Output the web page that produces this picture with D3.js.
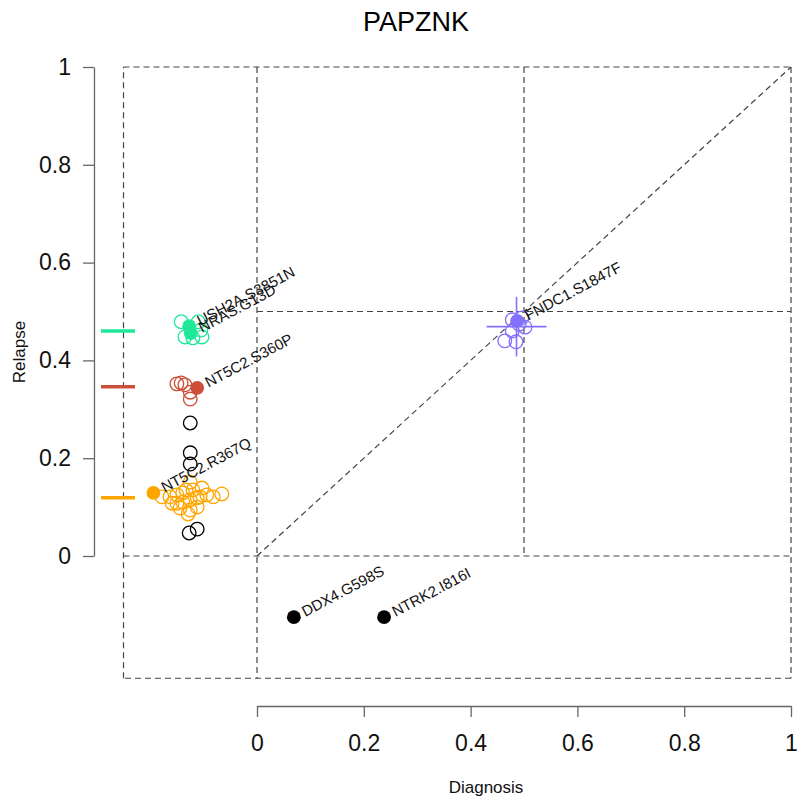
<!DOCTYPE html>
<html>
<head>
<meta charset="utf-8">
<script src="https://cdn.jsdelivr.net/npm/d3@7"></script>
<style>
  body { margin: 0; background: #fff; }
  svg { display: block; font-family: "Liberation Sans", Arial, sans-serif; }
</style>
</head>
<body>
<div id="chart"></div>
<script>
const title = "PAPZNK";
const tickValues = [0, 0.2, 0.4, 0.6, 0.8, 1];
const tickLabels = ["0", "0.2", "0.4", "0.6", "0.8", "1"];

// cluster colours: 0 green, 1 red, 2 orange, 3 purple, 4 unclustered
const clusterColor = ["#1fe89b", "#cd4f39", "#ffa500", "#8470ff", "#000000"];
const clusterMeanRelapse = [0.460, 0.346, 0.119];
const clusterCenter = { diagnosis: 0.486, relapse: 0.469 }; // purple cluster
const clusterCI = { diagnosis: [0.430, 0.542], relapse: [0.408, 0.530] };

// unlabelled variants (hollow circles); jitter only used for diagnosis == 0
const snvCluster = [0, 0, 0, 0, 0, 0,
  1, 1, 1, 1, 1,
  2, 2, 2, 2, 2, 2, 2, 2, 2, 2, 2, 2, 2, 2, 2, 2, 2, 2, 2, 2, 2,
  3, 3, 3, 3, 3, 3, 3,
  4, 4, 4, 4, 4];
const snvDiagnosis = [0, 0, 0, 0, 0, 0,
  0, 0, 0, 0, 0,
  0, 0, 0, 0, 0, 0, 0, 0, 0, 0, 0, 0, 0, 0, 0, 0, 0, 0, 0, 0, 0,
  0.464, 0.485, 0.478, 0.502, 0.478, 0.496, 0.491,
  0, 0, 0, 0, 0];
const snvRelapse = [0.479, 0.479, 0.462, 0.448, 0.446, 0.448,
  0.352, 0.354, 0.350, 0.335, 0.321,
  0.121, 0.121, 0.125, 0.129, 0.151, 0.135, 0.139, 0.125, 0.121, 0.127,
  0.108, 0.110, 0.115, 0.119, 0.098, 0.094, 0.100, 0.086, 0.121, 0.135, 0.108,
  0.440, 0.438, 0.460, 0.468, 0.483, 0.487, 0.474,
  0.272, 0.211, 0.188, 0.047, 0.055];
const snvJitter = [-0.017, 0.015, 0.020, -0.010, 0.005, 0.022,
  -0.025, -0.017, -0.010, 0.000, 0.000,
  -0.053, -0.038, -0.025, -0.014, 0.000, 0.005, 0.022, 0.031, 0.043, 0.059,
  -0.025, -0.014, 0.000, 0.013, -0.019, 0.000, 0.013, -0.004, 0.018, -0.008, -0.034,
  0, 0, 0, 0, 0, 0, 0,
  0.000, 0.000, 0.000, -0.002, 0.013];

// labelled variants (filled circles)
const labelNames = ["USH2A.S3851N", "NRAS.G13D", "NT5C2.S360P", "NT5C2.R367Q",
  "FNDC1.S1847F", "DDX4.G598S", "NTRK2.I816I"];
const labelCluster = [0, 0, 1, 2, 3, 4, 4];
const labelDiagnosis = [0, 0, 0, 0, 0.487, 0.069, 0.238];
const labelRelapse = [0.470, 0.456, 0.344, 0.129, 0.481, 0, 0];
const labelJitter = [-0.002, 0.001, 0.013, -0.069, 0, 0, 0];

const zeroPos = -0.125;

function renderChart() {
  const width = 797, height = 802;
  const svg = d3.select("#chart").append("svg").attr("width", width).attr("height", height);

  const x = d3.scaleLinear().domain([0, 1]).range([257, 791]);
  const y = d3.scaleLinear().domain([0, 1]).range([556, 67]);

  const px = (diag, jit) => x(diag === 0 ? zeroPos + jit : diag);
  const py = rel => y(rel === 0 ? zeroPos : rel);

  // dashed guide lines
  const guides = [
    [-0.25, 1, 1, 1], [1, 1, 1, -0.25], [1, -0.25, -0.25, -0.25], [-0.25, -0.25, -0.25, 1],
    [0, 1, 0, -0.25], [-0.25, 0, 1, 0], [0.5, 1, 0.5, 0], [0, 0.5, 1, 0.5], [0, 0, 1, 1]
  ];
  svg.append("g").selectAll("line").data(guides).enter().append("line")
    .attr("x1", d => x(d[0])).attr("y1", d => y(d[1]))
    .attr("x2", d => x(d[2])).attr("y2", d => y(d[3]))
    .attr("stroke", "#444").attr("stroke-width", 1.2).attr("stroke-dasharray", "6,4");

  // axes
  const yAxis = svg.append("g").attr("transform", "translate(94,0)")
    .call(d3.axisLeft(y).tickValues(tickValues).tickFormat((d, i) => tickLabels[i])
      .tickSize(11).tickPadding(12).tickSizeOuter(0));
  const xAxis = svg.append("g").attr("transform", "translate(0,706)")
    .call(d3.axisBottom(x).tickValues(tickValues).tickFormat((d, i) => tickLabels[i])
      .tickSize(11).tickPadding(18).tickSizeOuter(0));
  [xAxis, yAxis].forEach(a => {
    a.selectAll("path, line").attr("stroke", "#666").attr("stroke-width", 1.3);
    a.selectAll("text").attr("font-size", 23).attr("fill", "#111")
      .attr("font-family", "'Liberation Sans', Arial, sans-serif");
  });

  // cluster mean marks on the left
  svg.append("g").selectAll("line").data(clusterMeanRelapse).enter().append("line")
    .attr("x1", 101).attr("x2", 135)
    .attr("y1", d => y(d)).attr("y2", d => y(d))
    .attr("stroke", (d, i) => clusterColor[i]).attr("stroke-width", 3.5);

  // purple cluster CI cross
  const cc = clusterColor[3];
  svg.append("line")
    .attr("x1", x(clusterCI.diagnosis[0])).attr("x2", x(clusterCI.diagnosis[1]))
    .attr("y1", y(clusterCenter.relapse)).attr("y2", y(clusterCenter.relapse))
    .attr("stroke", cc).attr("stroke-width", 1.6);
  svg.append("line")
    .attr("x1", x(clusterCenter.diagnosis)).attr("x2", x(clusterCenter.diagnosis))
    .attr("y1", y(clusterCI.relapse[0])).attr("y2", y(clusterCI.relapse[1]))
    .attr("stroke", cc).attr("stroke-width", 1.6);

  // hollow circles
  const snv = snvCluster.map((c, i) => ({
    c, diag: snvDiagnosis[i], rel: snvRelapse[i], jit: snvJitter[i]
  }));
  svg.append("g").selectAll("circle").data(snv).enter().append("circle")
    .attr("cx", d => px(d.diag, d.jit)).attr("cy", d => py(d.rel)).attr("r", 6.8)
    .attr("fill", "none").attr("stroke", d => clusterColor[d.c]).attr("stroke-width", 1.3);

  // filled labelled points
  const lab = labelNames.map((n, i) => ({
    n, c: labelCluster[i], diag: labelDiagnosis[i], rel: labelRelapse[i], jit: labelJitter[i]
  }));
  svg.append("g").selectAll("circle").data(lab).enter().append("circle")
    .attr("cx", d => px(d.diag, d.jit)).attr("cy", d => py(d.rel)).attr("r", 6.9)
    .attr("fill", d => clusterColor[d.c]);

  svg.append("g").selectAll("text").data(lab).enter().append("text")
    .attr("transform", d => `translate(${px(d.diag, d.jit)},${py(d.rel)}) rotate(-28)`)
    .attr("x", 10).attr("dy", "0.35em")
    .attr("font-size", 15).attr("fill", "#111")
    .text(d => d.n);

  // titles
  svg.append("text").attr("x", 416).attr("y", 31).attr("text-anchor", "middle")
    .attr("font-size", 27).attr("fill", "#000").text(title);
  svg.append("text").attr("x", 486).attr("y", 793).attr("text-anchor", "middle")
    .attr("font-size", 17).attr("fill", "#111").text("Diagnosis");
  svg.append("text").attr("transform", "translate(25,352) rotate(-90)")
    .attr("text-anchor", "middle").attr("font-size", 17).attr("fill", "#111").text("Relapse");
}

renderChart();
</script>
</body>
</html>
